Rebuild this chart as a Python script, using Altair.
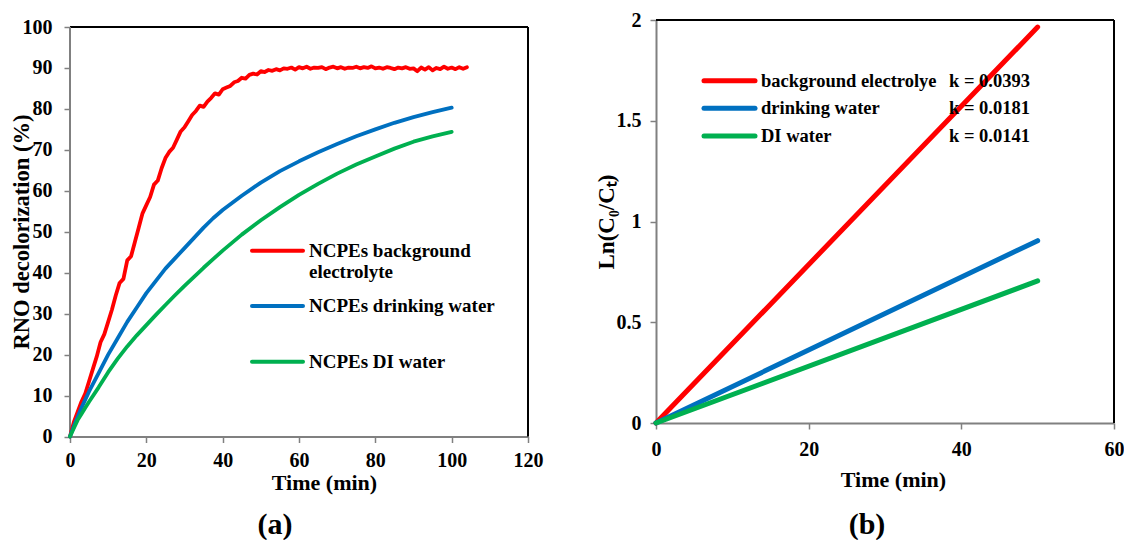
import altair as alt
import pandas as pd

FONT = "Liberation Serif"
RED = "#FF0000"
BLUE = "#0070C0"
GREEN = "#00B050"
GRAY = "#808080"

# ---------------- panel (a) data ----------------
red_time = list(range(0, 105))
red_vals = [0, 3.5, 6, 8.5, 10.5, 13.5, 16.5, 19.5, 23, 25,
            28, 31, 34.5, 37.5, 38.5, 43, 44, 47.5, 51, 54.5,
            56.5, 58.5, 61.5, 62.5, 65.5, 68, 69.5, 70.5, 72.5, 74.5,
            75.5, 77, 78.5, 79.5, 80.8, 80.5, 81.8, 82.7, 83.8, 83.5,
            84.8, 85.2, 85.6, 86.5, 86.8, 87.6, 87.4, 88.3, 88.6, 88.4,
            89.2, 89.0, 89.5, 89.3, 89.7, 89.4, 89.9, 89.8, 90.1, 89.6,
            90.2, 89.9, 90.3, 89.8, 90.1, 90.0, 90.2, 89.7, 90.1, 90.3,
            89.9, 90.2, 89.8, 90.1, 90.0, 90.3, 89.9, 90.2, 90.0, 90.4,
            89.9, 90.1, 89.8, 90.2, 90.0, 89.7, 90.1, 89.9, 90.2, 89.8,
            89.9, 89.2, 90.1, 89.6, 90.2, 89.4, 90.0, 89.7, 90.3, 89.8,
            90.1, 89.7, 90.2, 89.8, 90.2]
bg_time = [0, 1, 2, 3, 4, 5, 7.5, 10, 12.5, 15, 17.5, 20, 22.5, 25, 27.5, 30,
           32.5, 35, 37.5, 40, 45, 50, 55, 60, 65, 70, 75, 80, 85, 90, 95, 100]
blue_vals = [0, 2.5, 4.8, 7, 9, 11, 15.5, 20, 24, 28, 31.5, 35, 38, 41, 43.5, 46,
             48.5, 51, 53.3, 55.3, 58.8, 62, 64.8, 67.2, 69.4, 71.4, 73.3, 75, 76.6, 78, 79.2, 80.3]
green_vals = [0, 2, 4, 5.5, 7, 8.5, 12, 15.7, 19, 22, 24.7, 27.2, 29.7, 32.1, 34.5, 36.8,
              39, 41.2, 43.3, 45.4, 49.3, 52.8, 56, 59, 61.7, 64.2, 66.4, 68.4, 70.3, 72, 73.3, 74.4]

a_series = ["NCPEs background electrolyte", "NCPEs drinking water", "NCPEs DI water"]
a_legend_lines = [["NCPEs background", "electrolyte"], ["NCPEs drinking water"], ["NCPEs DI water"]]
a_xticks = [0, 20, 40, 60, 80, 100, 120]
a_yticks = [0, 10, 20, 30, 40, 50, 60, 70, 80, 90, 100]

# ---------------- panel (b) data ----------------
b_time = [0, 50]
b_red = [0, 1.965]
b_blue = [0, 0.905]
b_green = [0, 0.705]
b_series = ["background electrolye", "drinking water", "DI water"]
b_k = ["k = 0.0393", "k = 0.0181", "k = 0.0141"]
b_xticks = [0, 20, 40, 60]
b_yticks = [0, 0.5, 1, 1.5, 2]

colors = [RED, BLUE, GREEN]

# layout (pixels)
W = 458
HA_PLOT = 409.5          # height of 0..100 in panel a
HA = 416.5               # panel a drawn taller so its 100 line sits 7px lower
HB = 403
A_YMAX = a_yticks[-1] * HA / HA_PLOT


def axis_common(**kw):
    base = dict(
        grid=False, labelFont=FONT, labelFontSize=20, labelFontWeight="bold",
        labelColor="black", titleFont=FONT, titleFontSize=22, titleFontWeight="bold",
        titleColor="black", tickColor=GRAY, tickWidth=1.5, tickSize=6,
        domainColor=GRAY, domainWidth=2, labelOverlap=False, labelFlush=False,
    )
    base.update(kw)
    return alt.Axis(**base)


# ----- panel (a) -----
df_a = pd.concat([
    pd.DataFrame({"series": a_series[0], "time": red_time, "value": red_vals}),
    pd.DataFrame({"series": a_series[1], "time": bg_time, "value": blue_vals}),
    pd.DataFrame({"series": a_series[2], "time": bg_time, "value": green_vals}),
])
xa = alt.Scale(domain=[a_xticks[0], a_xticks[-1]], nice=False)
ya = alt.Scale(domain=[0, A_YMAX], nice=False)

lines_a = alt.Chart(df_a).mark_line(strokeWidth=3.8, strokeCap="round", strokeJoin="round").encode(
    x=alt.X("time:Q", scale=xa, axis=axis_common(values=a_xticks, title="Time (min)",
                                                labelPadding=8, titlePadding=2, titleX=254)),
    y=alt.Y("value:Q", scale=ya, axis=axis_common(values=a_yticks, title="RNO decolorization (%)",
                                                 domain=False, labelPadding=12, titleFontSize=22.5,
                                                 titleX=-42, titleY=211.5,
                                                 titleBaseline="alphabetic")),
    color=alt.Color("series:N", scale=alt.Scale(domain=a_series, range=colors), legend=None),
)

frame_a = pd.DataFrame({
    "x": [a_xticks[0], a_xticks[-1], a_xticks[0]],
    "x2": [a_xticks[-1], a_xticks[-1], a_xticks[0]],
    "y": [a_yticks[-1], a_yticks[0], a_yticks[0]],
    "y2": [a_yticks[-1], a_yticks[-1], a_yticks[-1]],
    "c": ["black", "black", GRAY],
})
frame_a_chart = alt.Chart(frame_a).mark_rule(strokeWidth=2).encode(
    x=alt.X("x:Q", scale=xa), x2="x2:Q", y=alt.Y("y:Q", scale=ya), y2="y2:Q",
    color=alt.Color("c:N", scale=None),
)

leg_a_layers = []
leg_a_rows_y = [230.7, 286, 341.7]
for i, lines in enumerate(a_legend_lines):
    yy = leg_a_rows_y[i]
    leg_a_layers.append(
        alt.Chart(pd.DataFrame({"s": [a_series[i]]})).mark_rule(
            strokeWidth=4, color=colors[i], strokeCap="round").encode(
            x=alt.value(182), x2=alt.value(233), y=alt.value(yy))
    )
    for j, txt in enumerate(lines):
        leg_a_layers.append(
            alt.Chart(pd.DataFrame({"t": [txt]})).mark_text(
                font=FONT, fontSize=19, fontWeight="bold", align="left", baseline="middle",
                color="black").encode(text="t:N", x=alt.value(239), y=alt.value(yy + 21.5 * j))
        )

lab_a = alt.Chart(pd.DataFrame({"t": ["(a)"]})).mark_text(
    font=FONT, fontSize=30, fontWeight="bold", color="black", baseline="middle").encode(
    text="t:N", x=alt.value(205), y=alt.value(505))

panel_a = alt.layer(frame_a_chart, lines_a, *leg_a_layers, lab_a).properties(width=W, height=HA)

# ----- panel (b) -----
df_b = pd.concat([
    pd.DataFrame({"series": b_series[0], "time": b_time, "value": b_red}),
    pd.DataFrame({"series": b_series[1], "time": b_time, "value": b_blue}),
    pd.DataFrame({"series": b_series[2], "time": b_time, "value": b_green}),
])
xb = alt.Scale(domain=[b_xticks[0], b_xticks[-1]], nice=False)
yb = alt.Scale(domain=[b_yticks[0], b_yticks[-1]], nice=False)

lines_b = alt.Chart(df_b).mark_line(strokeWidth=5, strokeCap="round").encode(
    x=alt.X("time:Q", scale=xb, axis=axis_common(values=b_xticks, title="Time (min)",
                                                labelPadding=10, titlePadding=10, titleX=237)),
    y=alt.Y("value:Q", scale=yb, axis=axis_common(values=b_yticks, format="~g", title="Ln(C₀/Cₜ)",
                                                 labelPadding=9, titleX=-43, titleY=201.5,
                                                 titleFontSize=23,
                                                 titleBaseline="alphabetic")),
    color=alt.Color("series:N", scale=alt.Scale(domain=b_series, range=colors), legend=None),
)

frame_b = pd.DataFrame({
    "x": [b_xticks[0], b_xticks[-1]],
    "x2": [b_xticks[-1], b_xticks[-1]],
    "y": [b_yticks[-1], b_yticks[0]],
    "y2": [b_yticks[-1], b_yticks[-1]],
})
frame_b_chart = alt.Chart(frame_b).mark_rule(strokeWidth=2, color="black").encode(
    x=alt.X("x:Q", scale=xb), x2="x2:Q", y=alt.Y("y:Q", scale=yb), y2="y2:Q",
)

leg_b_layers = []
leg_b_rows_y = [60.7, 88.3, 116]
for i, name in enumerate(b_series):
    yy = leg_b_rows_y[i]
    leg_b_layers.append(
        alt.Chart(pd.DataFrame({"s": [name]})).mark_rule(
            strokeWidth=5, color=colors[i], strokeCap="round").encode(
            x=alt.value(48), x2=alt.value(99), y=alt.value(yy))
    )
    leg_b_layers.append(
        alt.Chart(pd.DataFrame({"t": [name]})).mark_text(
            font=FONT, fontSize=18.5, fontWeight="bold", align="left", baseline="middle",
            color="black").encode(text="t:N", x=alt.value(105), y=alt.value(yy))
    )
    leg_b_layers.append(
        alt.Chart(pd.DataFrame({"t": [b_k[i]]})).mark_text(
            font=FONT, fontSize=18.5, fontWeight="bold", align="left", baseline="middle",
            color="black").encode(text="t:N", x=alt.value(293), y=alt.value(yy))
    )

lab_b = alt.Chart(pd.DataFrame({"t": ["(b)"]})).mark_text(
    font=FONT, fontSize=30, fontWeight="bold", color="black", baseline="middle").encode(
    text="t:N", x=alt.value(211), y=alt.value(505))

panel_b = alt.layer(frame_b_chart, lines_b, *leg_b_layers, lab_b).properties(width=W, height=HB)

chart = alt.hconcat(panel_a, panel_b, spacing=128, bounds="flush").configure_view(
    stroke=None).properties(padding={"left": 10, "top": 10, "right": 0, "bottom": 0},
                            background="white")

chart.save("out.html", embed_options={"renderer": "svg", "actions": False})
